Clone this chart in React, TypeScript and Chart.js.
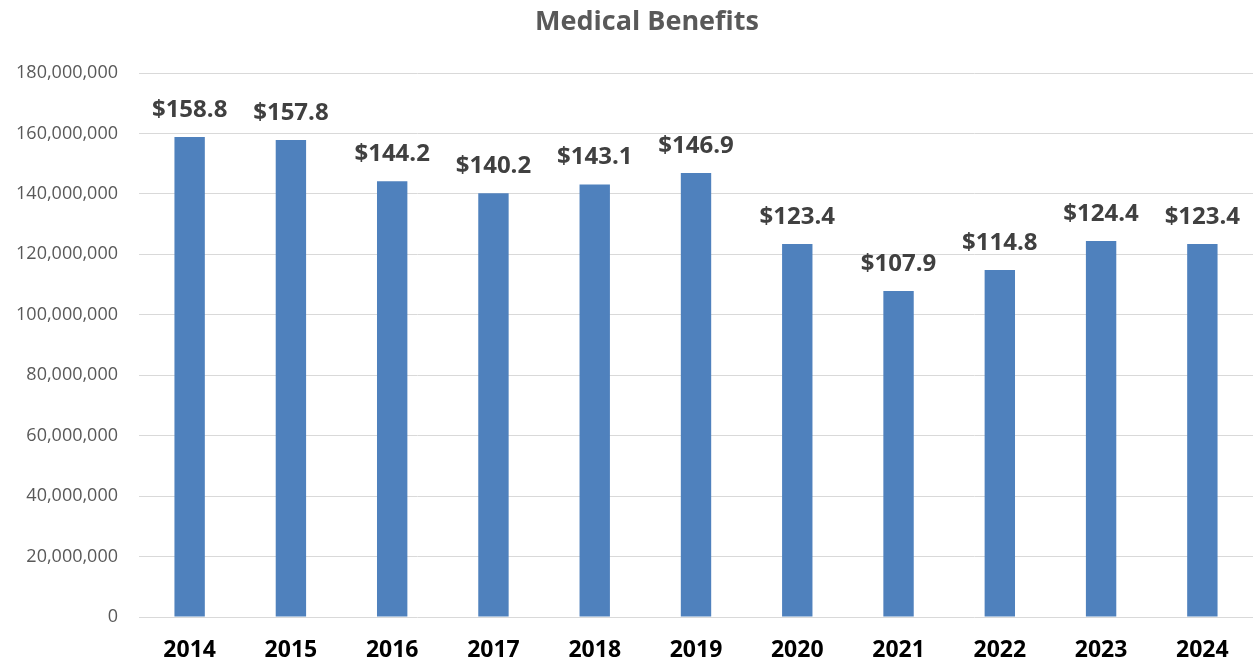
import React, { useEffect, useRef } from "react";
import { Chart, registerables } from "chart.js";

Chart.register(...registerables);

const years = ["2014", "2015", "2016", "2017", "2018", "2019", "2020", "2021", "2022", "2023", "2024"];
const benefits = [158.8e6, 157.8e6, 144.2e6, 140.2e6, 143.1e6, 146.9e6, 123.4e6, 107.9e6, 114.8e6, 124.4e6, 123.4e6];
const chartTitle = "Medical Benefits";

const FONT = "'Open Sans', 'Noto Sans', sans-serif";

const valueLabels = {
  id: "valueLabels",
  afterDatasetsDraw(chart: any) {
    const ctx = chart.ctx;
    const meta = chart.getDatasetMeta(0);
    ctx.save();
    ctx.font = `bold 24px ${FONT}`;
    ctx.fillStyle = "#404040";
    ctx.textAlign = "center";
    ctx.textBaseline = "middle";
    meta.data.forEach((bar: any, i: number) => {
      const v = benefits[i];
      ctx.fillText("$" + (v / 1e6).toFixed(1), bar.x, bar.y - 27);
    });
    // chart title
    ctx.font = `bold 27px ${FONT}`;
    ctx.fillStyle = "#595959";
    ctx.fillText(chartTitle, 647, 22);
    ctx.restore();
  },
};

export default function App() {
  const ref = useRef<HTMLCanvasElement>(null);
  useEffect(() => {
    if (!ref.current) return;
    const chart = new Chart(ref.current, {
      type: "bar",
      data: {
        labels: years,
        datasets: [
          {
            data: benefits,
            backgroundColor: "#4F81BD",
            barPercentage: 0.3,
            categoryPercentage: 1,
          },
        ],
      },
      options: {
        responsive: false,
        animation: false,
        layout: { padding: { left: 17, right: -4, top: 73, bottom: 0 } },
        plugins: {
          legend: { display: false },
          tooltip: { enabled: false },
          title: { display: false },
        },
        scales: {
          x: {
            grid: { display: false, drawTicks: false },
            border: { display: false },
            afterFit: (scale: any) => {
              scale.height = 46;
            },
            ticks: {
              color: "#000000",
              font: { family: FONT, size: 23, weight: "bold" },
              padding: 20,
              maxRotation: 0,
            },
          },
          y: {
            min: 0,
            max: 180000000,
            grid: { color: "#D9D9D9", lineWidth: 1, drawTicks: false },
            border: { display: false },
            afterFit: (scale: any) => {
              scale.width = 122;
            },
            ticks: {
              stepSize: 20000000,
              color: "#595959",
              padding: 21,
              font: { family: FONT, size: 18 },
              callback: (v: any) => Number(v).toLocaleString("en-US"),
            },
          },
        },
      },
      plugins: [valueLabels],
    });
    return () => chart.destroy();
  }, []);
  return (
    <div style={{ position: "fixed", left: 0, top: 0, width: 1253, height: 663, background: "#fff" }}>
      <canvas ref={ref} width={1253} height={663} />
    </div>
  );
}
